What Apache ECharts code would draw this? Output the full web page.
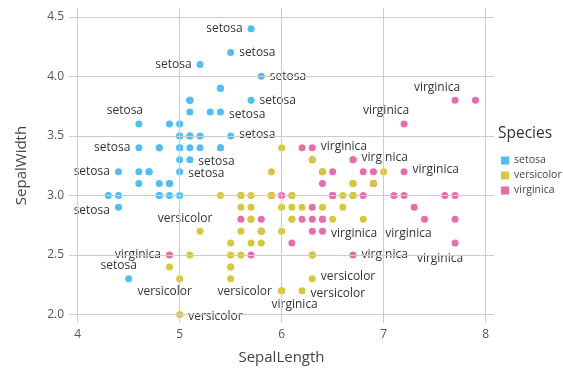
<!DOCTYPE html>
<html><head><meta charset="utf-8">
<script src="https://cdn.jsdelivr.net/npm/echarts@6/dist/echarts.min.js"></script>
<style>html,body{margin:0;padding:0;background:#fff}#c{width:563px;height:370px}</style>
</head><body><div id="c"></div>
<script>
const species = ['setosa', 'versicolor', 'virginica'];
const setosaX = [5.1,4.9,4.7,4.6,5.0,5.4,4.6,5.0,4.4,4.9,5.4,4.8,4.8,4.3,5.8,5.7,5.4,5.1,5.7,5.1,5.4,5.1,4.6,5.1,4.8,5.0,5.0,5.2,5.2,4.7,4.8,5.4,5.2,5.5,4.9,5.0,5.5,4.9,4.4,5.1,5.0,4.5,4.4,5.0,5.1,4.8,5.1,4.6,5.3,5.0];
const setosaY = [3.5,3.0,3.2,3.1,3.6,3.9,3.4,3.4,2.9,3.1,3.7,3.4,3.0,3.0,4.0,4.4,3.9,3.5,3.8,3.8,3.4,3.7,3.6,3.3,3.4,3.0,3.4,3.5,3.4,3.2,3.1,3.4,4.1,4.2,3.1,3.2,3.5,3.6,3.0,3.4,3.5,2.3,3.2,3.5,3.8,3.0,3.8,3.2,3.7,3.3];
const versicolorX = [7.0,6.4,6.9,5.5,6.5,5.7,6.3,4.9,6.6,5.2,5.0,5.9,6.0,6.1,5.6,6.7,5.6,5.8,6.2,5.6,5.9,6.1,6.3,6.1,6.4,6.6,6.8,6.7,6.0,5.7,5.5,5.5,5.8,6.0,5.4,6.0,6.7,6.3,5.6,5.5,5.5,6.1,5.8,5.0,5.6,5.7,5.7,6.2,5.1,5.7];
const versicolorY = [3.2,3.2,3.1,2.3,2.8,2.8,3.3,2.4,2.9,2.7,2.0,3.0,2.2,2.9,2.9,3.1,3.0,2.7,2.2,2.5,3.2,2.8,2.5,2.8,2.9,3.0,2.8,3.0,2.9,2.6,2.4,2.4,2.7,2.7,3.0,3.4,3.1,2.3,3.0,2.5,2.6,3.0,2.6,2.3,2.7,3.0,2.9,2.9,2.5,2.8];
const virginicaX = [6.3,5.8,7.1,6.3,6.5,7.6,4.9,7.3,6.7,7.2,6.5,6.4,6.8,5.7,5.8,6.4,6.5,7.7,7.7,6.0,6.9,5.6,7.7,6.3,6.7,7.2,6.2,6.1,6.4,7.2,7.4,7.9,6.4,6.3,6.1,7.7,6.3,6.4,6.0,6.9,6.7,6.9,5.8,6.8,6.7,6.7,6.3,6.5,6.2,5.9];
const virginicaY = [3.3,2.7,3.0,2.9,3.0,3.0,2.5,2.9,2.5,3.6,3.2,2.7,3.0,2.5,2.8,3.2,3.0,3.8,2.6,2.2,3.2,2.8,2.8,2.7,3.3,3.2,2.8,3.0,2.8,3.0,2.8,3.8,2.8,2.8,2.6,3.0,3.4,3.1,3.0,3.1,3.1,3.1,2.7,3.2,3.3,3.0,2.5,3.0,3.4,3.0];
const xTicks = [4, 5, 6, 7, 8];
const yTicks = [2.0, 2.5, 3.0, 3.5, 4.0, 4.5];
// labelled points: species, x, y
const labelledPoints = [
  ['setosa',5.7,4.4],['setosa',5.5,4.2],['setosa',5.2,4.1],['setosa',5.8,4.0],['setosa',5.7,3.8],
  ['setosa',5.4,3.7],['setosa',4.6,3.6],['setosa',5.5,3.5],['setosa',4.6,3.4],['setosa',5.1,3.3],
  ['setosa',5.0,3.2],['setosa',4.4,3.2],['setosa',4.4,2.9],['setosa',4.5,2.3],
  ['versicolor',5.2,2.7],['versicolor',5.0,2.3],['versicolor',5.5,2.3],['versicolor',5.0,2.0],
  ['versicolor',6.3,2.3],['versicolor',6.2,2.2],
  ['virginica',7.7,3.8],['virginica',7.2,3.6],['virginica',6.3,3.4],['virginica',6.7,3.3],
  ['virginica',7.2,3.2],['virginica',6.4,2.7],['virginica',7.4,2.8],['virginica',6.7,2.5],
  ['virginica',7.7,2.6],['virginica',4.9,2.5],['virginica',6.0,2.2]
];
// label placement (layout only): mode, dx, dy — same order as labelledPoints
const labelPlacement = [
  ['left',0,0],['right',0,0],['left',0,0],['right',0,0],['right',0,0],
  ['right',0,2],['inside',-14,-13],['right',0,-1],['left',0,0],['right',0,2],
  ['right',0,2],['left',0,0],['left',0,3],['inside',-10,-13],
  ['inside',-15,-13],['inside',-15,13],['inside',14,13],['right',0,2],
  ['right',0,-2],['right',0,3],
  ['inside',-18,-13],['inside',-18,-13],['right',0,-1],['right',0,-2],
  ['right',0,-2],['right',0,2],['inside',-16,14],['right',0,0],
  ['inside',-15,15],['left',0,0],['inside',13,14]
];

const colors = {setosa:'#4dbff5', versicolor:'#d5c93b', virginica:'#ea6baa'};
const seriesXY = {setosa:[setosaX,setosaY], versicolor:[versicolorX,versicolorY], virginica:[virginicaX,virginicaY]};
const used = labelledPoints.map(() => false);

function buildData(sp) {
  const [xs, ys] = seriesXY[sp];
  return xs.map((x, i) => {
    const y = ys[i];
    const k = labelledPoints.findIndex((p, j) => !used[j] && p[0] === sp && p[1] === x && p[2] === y);
    if (k < 0) return {value: [x, y]};
    used[k] = true;
    const [mode, dx, dy] = labelPlacement[k];
    return {value: [x, y], label: {show: true, formatter: sp, position: mode, distance: 5, offset: [dx, dy]}};
  });
}

const labelStyle = {fontFamily: 'Open Sans', fontSize: 12, color: '#333'};
const series = species.map(sp => ({
  name: sp, type: 'scatter', symbol: 'circle', symbolSize: 7,
  itemStyle: {color: colors[sp], opacity: 1},
  label: Object.assign({show: false}, labelStyle),
  z: sp === 'virginica' ? 3 : 4,
  data: buildData(sp)
}));
series.push({
  type: 'line', data: [], silent: true, z: 1,
  markLine: {
    silent: true, symbol: 'none', animation: false, label: {show: false},
    lineStyle: {color: '#cccccc', width: 1, type: 'solid'},
    data: xTicks.map(v => ({xAxis: v})).concat(yTicks.map(v => ({yAxis: v})))
  }
});

const chart = echarts.init(document.getElementById('c'));
chart.setOption({
  animation: false,
  textStyle: {fontFamily: 'Open Sans'},
  grid: {left: 69, right: 69, top: 8, bottom: 47, outerBoundsMode: 'none', containLabel: false},
  xAxis: {
    type: 'value', min: 3.915, max: 8.082,
    name: 'SepalLength', nameLocation: 'middle', nameGap: 27,
    nameTextStyle: {fontSize: 15, color: '#444', fontFamily: 'Open Sans'},
    axisLine: {show: false}, axisTick: {show: false}, splitLine: {show: false},
    axisLabel: {customValues: xTicks, color: '#555', fontSize: 12, margin: 6, formatter: v => String(v)}
  },
  yAxis: {
    type: 'value', min: 1.929, max: 4.574,
    name: 'SepalWidth', nameLocation: 'middle', nameGap: 40, nameRotate: 90,
    nameTextStyle: {fontSize: 15, color: '#444', fontFamily: 'Open Sans'},
    axisLine: {show: false}, axisTick: {show: false}, splitLine: {show: false},
    axisLabel: {customValues: yTicks, color: '#555', fontSize: 12, margin: 5, formatter: v => v.toFixed(1)}
  },
  legend: {
    data: species, orient: 'vertical', left: 496, top: 150,
    icon: 'rect', itemWidth: 8, itemHeight: 8, itemGap: 4,
    textStyle: {fontSize: 10.5, color: '#444', fontFamily: 'Open Sans'}
  },
  graphic: [{type: 'text', left: 498, top: 126, style: {text: 'Species', fontSize: 15.5, fill: '#333', fontFamily: 'Open Sans'}}],
  series: series
});
</script></body></html>
